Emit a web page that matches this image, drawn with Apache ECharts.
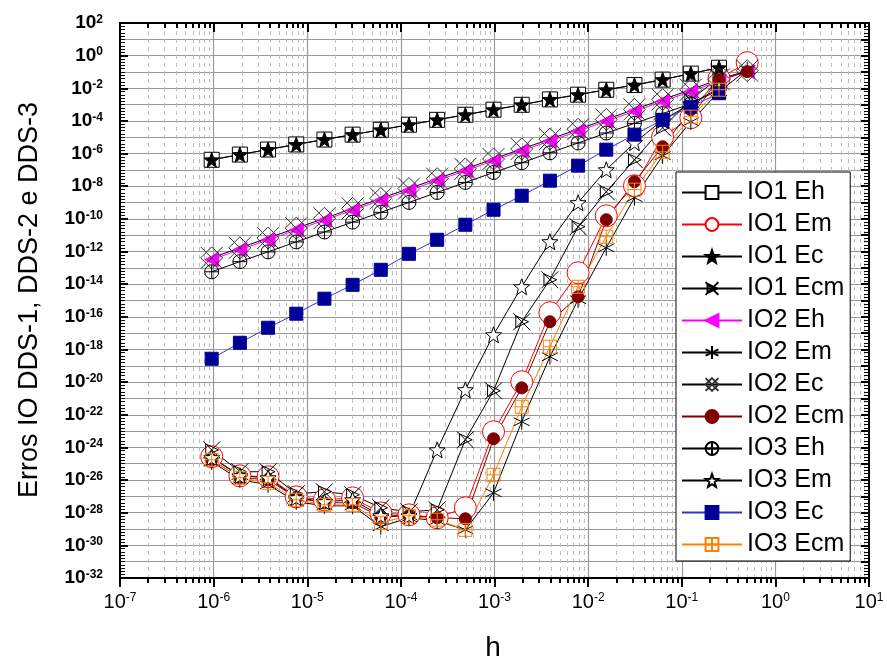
<!DOCTYPE html>
<html><head><meta charset="utf-8">
<script src="https://cdn.jsdelivr.net/npm/echarts@6/dist/echarts.min.js"></script>
<style>html,body{margin:0;padding:0;background:#fff}#c{width:887px;height:664px}</style>
</head><body><div id="c"></div>
<script>
// h = 2^-20 ... 2^-1
const h = [9.5367e-7, 1.9073e-6, 3.8147e-6, 7.6294e-6, 1.5259e-5, 3.0518e-5, 6.1035e-5, 1.2207e-4, 2.4414e-4, 4.8828e-4, 9.7656e-4, 1.9531e-3, 3.9063e-3, 7.8125e-3, 1.5625e-2, 3.125e-2, 6.25e-2, 0.125, 0.25, 0.5];

const io1Eh  = [4.17e-7, 8.71e-7, 1.78e-6, 3.63e-6, 7.24e-6, 1.45e-5, 2.88e-5, 5.89e-5, 1.17e-4, 2.40e-4, 4.90e-4, 9.77e-4, 2.09e-3, 4.07e-3, 8.13e-3, 1.58e-2, 3.39e-2, 7.94e-2, 0.182];
const io1Em  = [2.69e-25, 1.82e-26, 1.58e-26, 9.33e-28, 6.17e-28, 8.13e-28, 9.77e-29, 7.41e-29, 4.90e-29, 2.0e-28, 9.12e-24, 1.05e-20, 1.78e-16, 5.01e-14, 1.55e-10, 1.07e-8, 1.07e-5, 1.58e-4, 3.98e-2, 0.372];
const io1Ec  = [4.17e-7, 8.71e-7, 1.78e-6, 3.63e-6, 7.24e-6, 1.45e-5, 2.88e-5, 5.89e-5, 1.17e-4, 2.40e-4, 4.90e-4, 9.77e-4, 2.09e-3, 4.07e-3, 8.13e-3, 1.58e-2, 3.39e-2, 7.94e-2, 0.182];
const io1Ecm = [7.08e-25, 3.24e-26, 3.24e-26, 1.45e-27, 1.91e-27, 1.26e-27, 2.0e-28, 1.12e-28, 1.51e-28, 2.95e-24, 2.95e-21, 5.01e-17, 1.86e-14, 3.31e-11, 4.57e-9, 4.17e-7, 3.80e-5, 2.0e-3, 4.47e-2];
const io2Eh  = [3.16e-13, 1.29e-12, 5.13e-12, 2.09e-11, 8.32e-11, 3.39e-10, 1.38e-9, 5.50e-9, 2.24e-8, 8.91e-8, 3.63e-7, 1.48e-6, 5.89e-6, 2.40e-5, 9.55e-5, 3.89e-4, 1.58e-3, 6.31e-3, 2.82e-2, 0.105];
const io2Em  = [1.32e-25, 1.05e-26, 5.13e-27, 4.68e-28, 2.63e-28, 2.63e-28, 1.38e-29, 4.90e-29, 3.24e-29, 8.91e-30, 1.66e-27, 3.72e-23, 3.55e-19, 1.12e-15, 1.70e-12, 2.0e-9, 7.41e-7, 8.91e-5, 6.17e-3, 0.138];
const io2Ec  = [4.1e-13, 1.68e-12, 6.7e-12, 2.7e-11, 1.08e-10, 4.4e-10, 1.8e-9, 7.2e-9, 2.9e-8, 1.16e-7, 4.7e-7, 1.92e-6, 7.7e-6, 3.1e-5, 1.24e-4, 5.1e-4, 2.05e-3, 8.2e-3, 3.5e-2, 0.12];
const io2Ecm = [1.74e-25, 1.38e-26, 1.05e-26, 8.13e-28, 4.07e-28, 4.07e-28, 5.62e-29, 6.46e-29, 4.90e-29, 4.27e-29, 3.39e-24, 4.47e-21, 5.01e-17, 1.70e-15, 8.91e-11, 1.91e-8, 2.63e-6, 4.90e-4, 3.39e-2, 0.105];
const io3Eh  = [5.75e-14, 2.40e-13, 9.55e-13, 3.89e-12, 1.58e-11, 6.31e-11, 2.51e-10, 1.02e-9, 4.17e-9, 1.70e-8, 6.92e-8, 2.75e-7, 1.12e-6, 4.47e-6, 1.82e-5, 7.08e-5, 2.82e-4, 1.12e-3, 7.9e-3];
const io3Em  = [2.34e-25, 1.82e-26, 1.38e-26, 8.13e-28, 4.68e-28, 6.17e-28, 6.46e-29, 6.46e-29, 7.08e-25, 3.39e-21, 7.94e-18, 6.92e-15, 3.98e-12, 9.77e-10, 1.02e-7, 4.68e-6, 1.12e-4, 1.12e-3, 1.0e-2];
const io3Ec  = [2.69e-19, 2.57e-18, 2.14e-17, 1.55e-16, 1.29e-15, 9.12e-15, 7.59e-14, 7.24e-13, 5.25e-12, 4.37e-11, 3.63e-10, 2.63e-9, 2.19e-8, 1.82e-7, 1.74e-6, 1.45e-5, 1.17e-4, 7.41e-4, 5.0e-3];
const io3Ecm = [1.74e-25, 1.38e-26, 6.76e-27, 6.17e-28, 3.02e-28, 3.02e-28, 2.40e-29, 6.46e-29, 3.72e-29, 8.91e-30, 2.09e-26, 3.09e-22, 1.48e-18, 6.92e-15, 8.13e-12, 6.17e-9, 1.29e-6, 1.82e-4, 8.13e-3];

const seriesNames = ['IO1 Eh','IO1 Em','IO1 Ec','IO1 Ecm','IO2 Eh','IO2 Em','IO2 Ec','IO2 Ecm','IO3 Eh','IO3 Em','IO3 Ec','IO3 Ecm'];
const xTitle = 'h';
const yTitle = 'Erros IO DDS-1, DDS-2 e DDS-3';

const FONT = '"Liberation Sans", Arial, sans-serif';
const pts = arr => arr.map((v, i) => [h[i], v]);

const STAR = 'path://M5,0 L6.23,3.3 L9.76,3.45 L7,5.65 L7.94,9.05 L5,7.1 L2.06,9.05 L3,5.65 L0.24,3.45 L3.77,3.3 Z';
const BOWTIE = 'path://M1.5,1.5 L9,5 L1.5,8.5 Z M0,0 L10,10 M0,10 L10,0';
const ASTER = 'path://M5,0 L5,10 M0.7,2.5 L9.3,7.5 M0.7,7.5 L9.3,2.5';
const XDIAM = 'path://M5,0 L10,5 L5,10 L0,5 Z M0,0 L10,10 M10,0 L0,10';
const CPLUS = 'path://M0,5 A5,5 0 1 1 10,5 A5,5 0 1 1 0,5 Z M5,0 L5,10 M0,5 L10,5';
const SPLUS = 'path://M0,0 L10,0 L10,10 L0,10 Z M5,0 L5,10 M0,5 L10,5';
const T = 'rgba(255,255,255,0)';

function mk(name, arr, o) {
  return {
    name, type: 'line', data: pts(arr), xAxisIndex: 0, yAxisIndex: 0,
    symbol: o.symbol, symbolSize: o.size, symbolRotate: o.rot || 0,
    lineStyle: { color: o.line, width: 1 },
    itemStyle: { color: o.fill, borderColor: o.stroke, borderWidth: 1 },
    emphasis: { disabled: true }, animation: false, clip: true
  };
}

const series = [
  mk(seriesNames[0], io1Eh,  {symbol:'rect', size:15, line:'#000', fill:'#fff', stroke:'#000'}),
  mk(seriesNames[1], io1Em,  {symbol:'circle', size:22, line:'#ff0000', fill:'#fff', stroke:'#ff0000'}),
  mk(seriesNames[2], io1Ec,  {symbol:STAR, size:15, line:'#000', fill:'#000', stroke:'#000'}),
  mk(seriesNames[3], io1Ecm, {symbol:BOWTIE, size:17, line:'#000', fill:T, stroke:'#000'}),
  mk(seriesNames[4], io2Eh,  {symbol:'triangle', rot:90, size:14, line:'#ff00ff', fill:'#ff00ff', stroke:'#ff00ff'}),
  mk(seriesNames[5], io2Em,  {symbol:ASTER, size:16, line:'#000', fill:T, stroke:'#000'}),
  mk(seriesNames[6], io2Ec,  {symbol:XDIAM, size:22, line:'#000', fill:T, stroke:'#333'}),
  mk(seriesNames[7], io2Ecm, {symbol:'circle', size:12, line:'#800000', fill:'#800000', stroke:'#800000'}),
  mk(seriesNames[8], io3Eh,  {symbol:CPLUS, size:14, line:'#000', fill:T, stroke:'#000'}),
  mk(seriesNames[9], io3Em,  {symbol:STAR, size:16, line:'#000', fill:'#fff', stroke:'#000'}),
  mk(seriesNames[10], io3Ec, {symbol:'rect', size:13, line:'#3333cc', fill:'#000099', stroke:'#000099'}),
  mk(seriesNames[11], io3Ecm,{symbol:SPLUS, size:13, line:'#ff8000', fill:T, stroke:'#ff8000'})
];

const expLabel = v => {
  const e = Math.round(Math.log10(v));
  return '{b|10}{s|' + e + '}';
};

const chart = echarts.init(document.getElementById('c'), null, {renderer: 'canvas'});
chart.setOption({
  animation: false,
  backgroundColor: '#fff',
  grid: { left: 120, right: 18, top: 23, bottom: 86 },
  xAxis: [
    { type: 'log', logBase: 10, min: 1e-7, max: 10, position: 'bottom', splitNumber: 8,
      axisLine: { onZero: false, lineStyle: { color: '#000', width: 2 } },
      axisTick: { inside: false, length: 9, lineStyle: { color: '#000', width: 2 } },
      minorTick: { show: true, splitNumber: 9, length: 5, lineStyle: { color: '#000', width: 2 } },
      splitLine: { show: true, lineStyle: { color: '#999', width: 1.2 } },
      minorSplitLine: { show: true, lineStyle: { color: '#bdbdbd', width: 1, type: [4, 4] } },
      axisLabel: { margin: 14, formatter: expLabel,
        rich: { b: { fontFamily: FONT, fontSize: 20, color: '#000' },
                s: { fontFamily: FONT, fontSize: 12, color: '#000', verticalAlign: 'top', padding: [0,0,6,0] } } }
    },
    { type: 'log', logBase: 10, min: 1e-7, max: 10, position: 'top', splitNumber: 8,
      axisLine: { onZero: false, lineStyle: { color: '#000', width: 2 } },
      axisTick: { inside: true, length: 9, lineStyle: { color: '#000', width: 2 } },
      minorTick: { show: true, splitNumber: 9, length: 5, lineStyle: { color: '#000', width: 2 } },
      splitLine: { show: false }, axisLabel: { show: false }
    }
  ],
  yAxis: [
    { type: 'log', logBase: 10, min: 1e-32, max: 1e2, show: false },
    { type: 'value', min: -32, max: 2, interval: 2, position: 'left',
      axisLine: { show: true, onZero: false, lineStyle: { color: '#000', width: 2 } },
      axisTick: { show: true, inside: true, length: 8, lineStyle: { color: '#000', width: 2 } },
      minorTick: { show: true, splitNumber: 10, length: 5, lineStyle: { color: '#000', width: 1 } },
      splitLine: { show: false },
      axisLabel: { margin: 17, formatter: v => '{b|10}{s|' + v + '}',
        rich: { b: { fontFamily: FONT, fontSize: 19, fontWeight: 'bold', color: '#000' },
                s: { fontFamily: FONT, fontSize: 12, fontWeight: 'bold', color: '#000', verticalAlign: 'top', padding: [0,0,6,0] } } }
    },
    { type: 'value', min: -32, max: 2, interval: 1, position: 'right',
      axisLine: { show: true, onZero: false, lineStyle: { color: '#000', width: 2 } },
      axisTick: { show: true, inside: true, length: 8, lineStyle: { color: '#000', width: 2 } },
      minorTick: { show: true, splitNumber: 5, length: 5, lineStyle: { color: '#000', width: 1 } },
      splitLine: { show: true, lineStyle: { color: '#999', width: 1.2 } },
      axisLabel: { show: false }
    }
  ],
  legend: {
    orient: 'vertical', left: 676, top: 172,
    padding: [8, 6, 4, 5], itemGap: 7, itemWidth: 60, itemHeight: 16,
    backgroundColor: '#fff', borderColor: '#000', borderWidth: 1,
    textStyle: { fontFamily: FONT, fontSize: 25, color: '#000' },
    data: seriesNames
  },
  graphic: [
    { type: 'text', x: 30, y: 300, rotation: Math.PI / 2,
      style: { text: yTitle, font: '27px ' + FONT, fill: '#000', textAlign: 'center', textVerticalAlign: 'middle' } },
    { type: 'text', x: 493, y: 648,
      style: { text: xTitle, font: '28px ' + FONT, fill: '#000', textAlign: 'center', textVerticalAlign: 'middle' } }
  ],
  series: series
});
</script></body></html>
